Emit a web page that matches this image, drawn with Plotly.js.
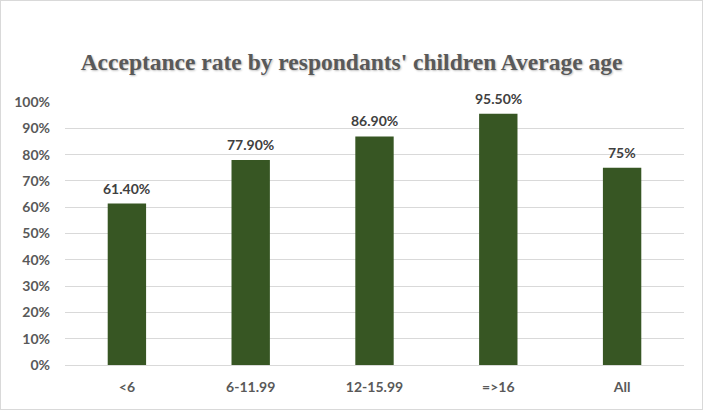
<!DOCTYPE html>
<html>
<head>
<meta charset="utf-8">
<script src="https://cdn.plot.ly/plotly-3.0.1.min.js"></script>
<style>
html,body{margin:0;padding:0;background:#fff;}
#wrap{position:relative;width:703px;height:410px;}
#chart{width:703px;height:410px;}
#border{position:absolute;left:0;top:0;width:701px;height:408px;border:1px solid #d9d9d9;pointer-events:none;}
</style>
</head>
<body>
<div id="wrap"><div id="chart"></div><div id="border"></div></div>
<script>
const categories = ["<6", "6-11.99", "12-15.99", "=>16", "All"];
const acceptance = [0.614, 0.779, 0.869, 0.955, 0.75];
const valueLabels = ["61.40%", "77.90%", "86.90%", "95.50%", "75%"];
const yTickValues = [0, 0.1, 0.2, 0.3, 0.4, 0.5, 0.6, 0.7, 0.8, 0.9, 1.0];
const yTickLabels = ["0%", "10%", "20%", "30%", "40%", "50%", "60%", "70%", "80%", "90%", "100%"];

const labelFont = {family: "Lato, 'Open Sans', sans-serif", size: 14, color: "#404040", weight: "bold"};

const trace = {
  type: "bar",
  x: categories,
  y: acceptance,
  marker: {color: "#375623"},
  hoverinfo: "skip"
};

const annotations = categories.map((c, i) => ({
  x: c, y: acceptance[i], xref: "x", yref: "y",
  text: valueLabels[i], showarrow: false,
  yanchor: "bottom", yshift: 5,
  font: labelFont
}));

const layout = {
  width: 703,
  height: 410,
  margin: {l: 65, r: 19, t: 102, b: 45},
  paper_bgcolor: "#ffffff",
  plot_bgcolor: "#ffffff",
  bargap: 0.69,
  showlegend: false,
  annotations: annotations,
  title: {
    text: "<b>Acceptance rate by respondants' children Average age</b>",
    x: 0.5, xanchor: "center",
    y: 1 - 62/410, yanchor: "middle", yref: "container",
    font: {family: "'Liberation Serif', 'DejaVu Serif', serif", size: 23.5, color: "#595959", shadow: "1px 1px 2px #bfbfbf"}
  },
  xaxis: {
    type: "category",
    tickfont: {family: "Lato, 'Open Sans', sans-serif", size: 14, color: "#595959", weight: "bold"},
    showline: false,
    ticks: "",
    ticklabelstandoff: 12,
    fixedrange: true
  },
  yaxis: {
    range: [0, 1.0],
    tickvals: yTickValues,
    ticktext: yTickLabels,
    tickfont: {family: "Lato, 'Open Sans', sans-serif", size: 14, color: "#595959", weight: "bold"},
    gridcolor: "#d9d9d9",
    gridwidth: 1,
    zeroline: true,
    zerolinecolor: "#d9d9d9",
    showline: false,
    ticks: "",
    ticklabelstandoff: 14,
    fixedrange: true
  }
};

Plotly.newPlot("chart", [trace], layout, {displayModeBar: false, staticPlot: true});
</script>
</body>
</html>
